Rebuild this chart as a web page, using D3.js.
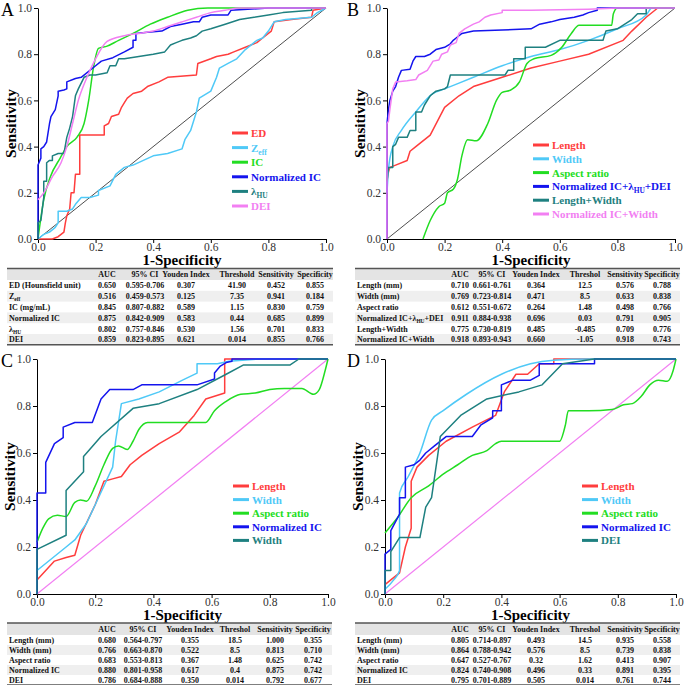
<!DOCTYPE html>
<html>
<head>
<meta charset="utf-8">
<script src="https://d3js.org/d3.v7.min.js"></script>
<style>
  body { margin: 0; background: #fff; }
  svg text { font-family: "Liberation Serif", "Times New Roman", serif; }
  .tick line, .domain { stroke: #000; }
</style>
</head>
<body>
<script>
  // ---- curve data: [1-specificity, sensitivity] ----
  var aED = [[0,0],[0.05,0],[0.07,0.01],[0.09,0.03],[0.095,0.07],[0.10,0.10],[0.11,0.13],[0.115,0.20],[0.125,0.20],[0.13,0.28],[0.145,0.28],[0.145,0.45],[0.23,0.45],[0.23,0.49],[0.245,0.50],[0.255,0.53],[0.28,0.54],[0.29,0.57],[0.30,0.59],[0.31,0.61],[0.33,0.63],[0.36,0.64],[0.38,0.66],[0.42,0.68],[0.45,0.70],[0.55,0.71],[0.555,0.76],[0.60,0.78],[0.62,0.79],[0.66,0.80],[0.68,0.81],[0.72,0.83],[0.76,0.85],[0.78,0.87],[0.80,0.89],[0.81,0.90],[0.82,0.94],[0.88,0.95],[0.95,0.96],[0.955,0.99],[1,1]];
  var aZeff = [[0,0],[0.02,0.02],[0.04,0.03],[0.06,0.05],[0.07,0.07],[0.07,0.12],[0.10,0.12],[0.12,0.13],[0.13,0.15],[0.15,0.18],[0.18,0.18],[0.21,0.19],[0.21,0.21],[0.25,0.23],[0.27,0.28],[0.30,0.31],[0.33,0.32],[0.40,0.36],[0.45,0.37],[0.50,0.39],[0.51,0.43],[0.53,0.47],[0.55,0.55],[0.56,0.61],[0.60,0.64],[0.62,0.70],[0.63,0.74],[0.66,0.76],[0.69,0.78],[0.72,0.82],[0.76,0.86],[0.78,0.87],[0.80,0.90],[0.82,0.94],[0.86,0.95],[0.95,0.96],[0.97,0.98],[1,1]];
  var aIC = [[0,0],[0.02,0.17],[0.043,0.27],[0.077,0.35],[0.10,0.40],[0.135,0.44],[0.16,0.50],[0.176,0.60],[0.193,0.745],[0.21,0.825],[0.24,0.835],[0.28,0.86],[0.33,0.89],[0.39,0.93],[0.45,0.96],[0.52,0.99],[0.59,1],[1,1]];
  var aNIC = [[0,0],[0,0.32],[0.01,0.35],[0.01,0.39],[0.02,0.40],[0.03,0.42],[0.04,0.50],[0.045,0.53],[0.06,0.56],[0.07,0.62],[0.07,0.64],[0.09,0.645],[0.10,0.65],[0.10,0.68],[0.13,0.695],[0.15,0.70],[0.20,0.75],[0.22,0.77],[0.26,0.785],[0.30,0.81],[0.33,0.83],[0.33,0.86],[0.34,0.86],[0.34,0.89],[0.38,0.895],[0.43,0.90],[0.46,0.92],[0.50,0.93],[0.54,0.94],[0.56,0.94],[0.57,0.96],[0.60,0.97],[0.66,0.97],[0.67,0.99],[0.80,1],[1,1]];
  var aLHU = [[0,0],[0,0.07],[0.01,0.08],[0.02,0.18],[0.02,0.25],[0.03,0.25],[0.03,0.33],[0.04,0.34],[0.05,0.34],[0.05,0.36],[0.07,0.37],[0.09,0.37],[0.10,0.44],[0.11,0.48],[0.12,0.53],[0.13,0.62],[0.14,0.65],[0.16,0.70],[0.18,0.71],[0.20,0.71],[0.24,0.72],[0.25,0.75],[0.27,0.75],[0.28,0.78],[0.30,0.78],[0.35,0.79],[0.40,0.80],[0.44,0.81],[0.46,0.84],[0.48,0.85],[0.50,0.86],[0.53,0.87],[0.55,0.88],[0.57,0.90],[0.60,0.91],[0.65,0.93],[0.70,0.95],[0.75,0.96],[0.80,0.97],[0.85,0.98],[0.95,0.99],[0.95,1],[1,1]];
  var aDEI = [[0,0.17],[0.02,0.20],[0.05,0.27],[0.08,0.33],[0.10,0.40],[0.12,0.50],[0.14,0.60],[0.17,0.70],[0.20,0.78],[0.24,0.855],[0.30,0.88],[0.35,0.89],[0.40,0.90],[0.45,0.92],[0.50,0.94],[0.55,0.96],[0.60,0.98],[0.65,0.99],[0.70,1],[1,1]];

  var bLength = [[0,0.25],[0.005,0.29],[0.01,0.31],[0.03,0.32],[0.07,0.34],[0.08,0.38],[0.10,0.40],[0.15,0.45],[0.20,0.57],[0.25,0.62],[0.30,0.66],[0.40,0.70],[0.50,0.74],[0.60,0.77],[0.70,0.80],[0.82,0.86],[0.85,0.90],[0.90,0.96],[0.94,1],[1,1]];
  var bWidth = [[0,0.2],[0.005,0.30],[0.02,0.40],[0.05,0.47],[0.10,0.55],[0.16,0.63],[0.20,0.65],[0.30,0.70],[0.40,0.75],[0.50,0.79],[0.60,0.82],[0.70,0.86],[0.80,0.91],[0.90,0.97],[0.92,1],[1,1]];
  var bAspect = [[0.125,0],[0.15,0.08],[0.18,0.14],[0.20,0.155],[0.21,0.20],[0.23,0.215],[0.245,0.26],[0.26,0.36],[0.28,0.43],[0.31,0.425],[0.35,0.50],[0.38,0.60],[0.40,0.635],[0.43,0.645],[0.46,0.68],[0.486,0.76],[0.51,0.78],[0.57,0.795],[0.607,0.83],[0.64,0.89],[0.667,0.925],[0.78,0.925],[0.786,0.975],[0.80,1],[1,1]];
  var bNICLD = [[0,0],[0,0.50],[0.005,0.56],[0.01,0.60],[0.02,0.64],[0.03,0.66],[0.04,0.70],[0.05,0.73],[0.08,0.735],[0.09,0.77],[0.10,0.79],[0.13,0.79],[0.15,0.80],[0.17,0.82],[0.20,0.83],[0.22,0.845],[0.23,0.86],[0.24,0.87],[0.26,0.89],[0.30,0.90],[0.40,0.905],[0.50,0.91],[0.53,0.93],[0.57,0.94],[0.60,0.95],[0.65,0.96],[0.68,0.97],[0.70,0.98],[0.73,0.99],[0.73,1],[1,1]];
  var bLW = [[0,0.25],[0.005,0.31],[0.02,0.31],[0.02,0.40],[0.03,0.41],[0.04,0.44],[0.07,0.44],[0.08,0.47],[0.10,0.47],[0.10,0.55],[0.12,0.55],[0.13,0.58],[0.15,0.62],[0.17,0.64],[0.20,0.65],[0.21,0.66],[0.22,0.71],[0.41,0.71],[0.42,0.73],[0.44,0.73],[0.44,0.78],[0.48,0.78],[0.48,0.83],[0.55,0.83],[0.60,0.86],[0.75,0.86],[0.76,0.90],[0.80,0.91],[0.85,0.95],[0.87,0.975],[0.90,0.975],[0.90,1],[1,1]];
  var bNICW = [[0,0],[0,0.50],[0.005,0.51],[0.01,0.56],[0.02,0.65],[0.03,0.68],[0.07,0.685],[0.10,0.69],[0.11,0.71],[0.14,0.73],[0.16,0.77],[0.18,0.775],[0.19,0.80],[0.21,0.81],[0.22,0.84],[0.24,0.85],[0.25,0.89],[0.27,0.91],[0.30,0.93],[0.32,0.94],[0.34,0.96],[0.36,0.97],[0.40,0.98],[0.40,0.99],[0.50,0.99],[0.70,0.995],[0.80,1],[1,1]];

  var cLength = [[0,0.06],[0.06,0.14],[0.10,0.155],[0.13,0.165],[0.15,0.25],[0.20,0.38],[0.23,0.48],[0.26,0.49],[0.29,0.50],[0.32,0.55],[0.36,0.59],[0.42,0.64],[0.49,0.69],[0.54,0.76],[0.58,0.83],[0.645,0.855],[0.645,1],[1,1]];
  var cWidth = [[0,0.10],[0.05,0.15],[0.10,0.20],[0.13,0.23],[0.17,0.30],[0.20,0.38],[0.26,0.54],[0.27,0.65],[0.29,0.81],[0.35,0.83],[0.42,0.86],[0.50,0.91],[0.55,0.94],[0.55,0.98],[0.62,0.98],[0.66,0.99],[0.76,1],[1,1]];
  var cAspect = [[0,0.22],[0.02,0.28],[0.04,0.32],[0.07,0.335],[0.10,0.33],[0.13,0.39],[0.15,0.40],[0.17,0.395],[0.20,0.46],[0.23,0.55],[0.26,0.62],[0.28,0.63],[0.31,0.615],[0.33,0.65],[0.35,0.70],[0.38,0.73],[0.45,0.73],[0.58,0.73],[0.61,0.78],[0.65,0.82],[0.70,0.85],[0.75,0.855],[0.80,0.87],[0.85,0.875],[0.91,0.875],[0.95,0.85],[0.97,0.87],[0.99,0.95],[1,1]];
  var cNIC = [[0,0],[0,0.43],[0.03,0.43],[0.03,0.56],[0.06,0.64],[0.09,0.665],[0.09,0.71],[0.13,0.73],[0.19,0.73],[0.22,0.83],[0.25,0.87],[0.33,0.87],[0.36,0.89],[0.55,0.89],[0.61,0.915],[0.61,0.94],[0.63,0.97],[0.65,0.985],[0.67,0.99],[0.67,1],[1,1]];
  var cWidth2 = [[0,0],[0,0.19],[0.10,0.25],[0.10,0.44],[0.16,0.52],[0.16,0.585],[0.22,0.67],[0.33,0.79],[0.42,0.81],[0.55,0.87],[0.65,0.935],[0.71,0.975],[0.87,0.975],[0.90,1],[1,1]];

  var dLength = [[0,0.04],[0.02,0.06],[0.05,0.09],[0.07,0.20],[0.09,0.28],[0.09,0.48],[0.11,0.54],[0.15,0.59],[0.21,0.65],[0.30,0.71],[0.38,0.76],[0.41,0.86],[0.45,0.935],[0.49,0.935],[0.53,0.98],[0.58,0.98],[0.58,1],[1,1]];
  var dWidth = [[0,0.02],[0.03,0.06],[0.05,0.10],[0.05,0.43],[0.08,0.50],[0.12,0.60],[0.16,0.74],[0.20,0.78],[0.28,0.85],[0.40,0.935],[0.50,0.98],[0.58,0.995],[0.70,1],[1,1]];
  var dAspect = [[0,0.26],[0.04,0.32],[0.09,0.41],[0.15,0.46],[0.20,0.51],[0.25,0.55],[0.30,0.59],[0.35,0.61],[0.38,0.64],[0.40,0.65],[0.60,0.65],[0.62,0.72],[0.63,0.78],[0.70,0.78],[0.78,0.785],[0.82,0.805],[0.85,0.81],[0.88,0.84],[0.91,0.89],[0.94,0.91],[0.97,0.905],[0.99,0.95],[1,1]];
  var dNIC = [[0,0],[0,0.17],[0.02,0.19],[0.02,0.27],[0.05,0.34],[0.05,0.41],[0.07,0.41],[0.07,0.54],[0.10,0.55],[0.12,0.57],[0.14,0.60],[0.17,0.63],[0.21,0.67],[0.30,0.67],[0.33,0.72],[0.37,0.75],[0.37,0.78],[0.40,0.78],[0.40,0.89],[0.44,0.91],[0.50,0.91],[0.53,0.93],[0.53,0.98],[0.72,0.98],[0.72,1],[1,1]];
  var dDEI = [[0,0],[0,0.10],[0.02,0.10],[0.02,0.18],[0.05,0.24],[0.12,0.24],[0.14,0.37],[0.16,0.41],[0.18,0.58],[0.19,0.67],[0.26,0.76],[0.35,0.83],[0.46,0.86],[0.54,0.89],[0.61,0.98],[0.72,1],[1,1]];

  // ---- legend names ----
  var namesA = ["ED", "Z{eff}", "IC", "Normalized IC", "λ{HU}", "DEI"];
  var namesB = ["Length", "Width", "Aspect ratio", "Normalized IC+λ{HU}+DEI", "Length+Width", "Normalized IC+Width"];
  var namesC = ["Length", "Width", "Aspect ratio", "Normalized IC", "Width"];
  var namesD = ["Length", "Width", "Aspect ratio", "Normalized IC", "DEI"];

  // ---- tables ----
  var headA = ["AUC", "95% CI", "Youden Index", "Threshold", "Sensitivity", "Specificity"];
  var headB = ["AUC", "95% CI", "Youden Index", "Threshol", "Sensitivity", "Specificity"];
  var rowNamesA = ["ED (Hounsfield unit)", "Z{eff}", "IC (mg/mL)", "Normalized IC", "λ{HU}", "DEI"];
  var rowValsA = [
    ["0.650", "0.595-0.706", "0.307", "41.90", "0.452", "0.855"],
    ["0.516", "0.459-0.573", "0.125", "7.35", "0.941", "0.184"],
    ["0.845", "0.807-0.882", "0.589", "1.15", "0.830", "0.759"],
    ["0.875", "0.842-0.909", "0.583", "0.44", "0.685", "0.899"],
    ["0.802", "0.757-0.846", "0.530", "1.56", "0.701", "0.833"],
    ["0.859", "0.823-0.895", "0.621", "0.014", "0.855", "0.766"]];
  var rowNamesB = ["Length (mm)", "Width (mm)", "Aspect ratio", "Normalized IC+λ{HU}+DEI", "Length+Width", "Normalized IC+Width"];
  var rowValsB = [
    ["0.710", "0.661-0.761", "0.364", "12.5", "0.576", "0.788"],
    ["0.769", "0.723-0.814", "0.471", "8.5", "0.633", "0.838"],
    ["0.612", "0.551-0.672", "0.264", "1.48", "0.498", "0.766"],
    ["0.911", "0.884-0.938", "0.696", "0.03", "0.791", "0.905"],
    ["0.775", "0.730-0.819", "0.485", "-0.485", "0.709", "0.776"],
    ["0.918", "0.893-0.943", "0.660", "-1.05", "0.918", "0.743"]];
  var rowNamesC = ["Length (mm)", "Width (mm)", "Aspect ratio", "Normalized IC", "DEI"];
  var rowValsC = [
    ["0.680", "0.564-0.797", "0.355", "18.5", "1.000", "0.355"],
    ["0.766", "0.663-0.870", "0.522", "8.5", "0.813", "0.710"],
    ["0.683", "0.553-0.813", "0.367", "1.48", "0.625", "0.742"],
    ["0.880", "0.801-0.958", "0.617", "0.4", "0.875", "0.742"],
    ["0.786", "0.684-0.888", "0.350", "0.014", "0.792", "0.677"]];
  var rowNamesD = ["Length (mm)", "Width (mm)", "Aspect ratio", "Normalized IC", "DEI"];
  var rowValsD = [
    ["0.805", "0.714-0.897", "0.493", "14.5", "0.935", "0.558"],
    ["0.864", "0.788-0.942", "0.576", "8.5", "0.739", "0.838"],
    ["0.647", "0.527-0.767", "0.32", "1.62", "0.413", "0.907"],
    ["0.824", "0.740-0.908", "0.496", "0.33", "0.891", "0.395"],
    ["0.795", "0.701-0.889", "0.505", "0.014", "0.761", "0.744"]];

  var tickVals = [0, 0.2, 0.4, 0.6, 0.8, 1.0];

  // colours
  var RED = "#ff3d3d", SKY = "#4fc9f7", GRN = "#22dd22", BLU = "#1414ee", TEAL = "#1e8080", PINK = "#f27ff2";
  var FONT = "'Liberation Serif', 'Times New Roman', serif";
  var TF = 8;   // table font size

  var svg = d3.select("body").append("svg").attr("width", 684).attr("height", 685);

  // writes "abc{sub}def" as text with subscripts
  function richText(sel, str, size) {
    var parts = str.split(/(\{[^}]*\})/).filter(function(p) { return p.length; });
    var shift = 0;
    parts.forEach(function(p) {
      var t = sel.append("tspan");
      if (p[0] == "{") {
        t.attr("font-size", size * 0.68).attr("dy", size * 0.28).text(p.slice(1, -1));
        shift = size * 0.28;
      } else {
        if (shift) t.attr("dy", -shift);
        shift = 0;
        t.text(p);
      }
    });
  }

  function panel(p) {
    var g = svg.append("g");
    var x = d3.scaleLinear().domain([0, 1]).range([p.l, p.r]);
    var y = d3.scaleLinear().domain([0, 1]).range([p.b, p.t]);

    var gx = g.append("g").attr("transform", "translate(0," + p.b + ")")
      .call(d3.axisBottom(x).tickValues(tickVals).tickFormat(d3.format(".1f")).tickSize(4).tickSizeOuter(0).tickPadding(0));
    var gy = g.append("g").attr("transform", "translate(" + p.l + ",0)")
      .call(d3.axisLeft(y).tickValues(tickVals).tickFormat(d3.format(".1f")).tickSize(4).tickSizeOuter(0).tickPadding(2));
    [gx, gy].forEach(function(a) {
      a.attr("font-family", FONT).attr("font-size", 11.5);
      a.selectAll(".tick text").attr("fill", "#333");
    });

    g.append("line")
      .attr("x1", x(0)).attr("y1", y(0)).attr("x2", x(1)).attr("y2", y(1))
      .attr("stroke", p.diag).attr("stroke-width", p.diag == "#000" ? 0.7 : 1.2);

    var line = d3.line().x(function(d) { return x(d[0]); }).y(function(d) { return y(d[1]); });
    var smooth = d3.line().x(function(d) { return x(d[0]); }).y(function(d) { return y(d[1]); }).curve(d3.curveMonotoneX);

    p.series.forEach(function(s, i) {
      g.append("path").datum(s)
        .attr("fill", "none")
        .attr("stroke", p.colors[i])
        .attr("stroke-width", 1.5)
        .attr("stroke-linejoin", "round")
        .attr("d", p.smooth.indexOf(i) >= 0 ? smooth : line);
    });

    // legend
    p.names.forEach(function(n, i) {
      var yy = p.legY + i * p.legStep;
      g.append("line").attr("x1", p.legX).attr("x2", p.legX + 16).attr("y1", yy).attr("y2", yy)
        .attr("stroke", p.colors[i]).attr("stroke-width", 3);
      var t = g.append("text").attr("x", p.legX + 19).attr("y", yy + 4)
        .attr("font-size", 11).attr("font-weight", "bold").attr("fill", p.colors[i]);
      richText(t, n, 11);
    });

    // titles
    g.append("text").attr("x", (p.l + p.r) / 2).attr("y", p.b + 26).attr("text-anchor", "middle")
      .attr("font-size", 15).attr("font-weight", "bold").text("1-Specificity");
    g.append("text").attr("transform", "translate(" + (p.l - 22) + "," + ((p.t + p.b) / 2) + ") rotate(-90)")
      .attr("text-anchor", "middle").attr("font-size", 15.5).attr("font-weight", "bold").text("Sensitivity");
    g.append("text").attr("x", p.letX).attr("y", p.t + 8).attr("font-size", 18).text(p.letter);

    // table
    var tg = svg.append("g");
    var top = p.tabTop, hh = p.headH, rh = p.rowH;
    tg.append("rect").attr("x", p.tabL).attr("y", top).attr("width", p.tabR - p.tabL).attr("height", hh).attr("fill", "#e4e4e4");
    p.rowNames.forEach(function(n, i) {
      var ry = top + hh + i * rh;
      if (i % 2 == 1) {
        tg.append("rect").attr("x", p.tabL).attr("y", ry).attr("width", p.tabR - p.tabL).attr("height", rh).attr("fill", "#efefef");
      }
      var t = tg.append("text").attr("x", p.tabL + 2).attr("y", ry + rh / 2 + 3)
        .attr("font-size", TF).attr("font-weight", "bold").attr("fill", "#111");
      richText(t, n, TF);
      p.rowVals[i].forEach(function(v, j) {
        tg.append("text").attr("x", p.cols[j]).attr("y", ry + rh / 2 + 3).attr("text-anchor", "middle")
          .attr("font-size", TF).attr("font-weight", "bold").attr("fill", "#111").text(v);
      });
    });
    p.head.forEach(function(h, j) {
      tg.append("text").attr("x", p.cols[j]).attr("y", top + hh / 2 + 3).attr("text-anchor", "middle")
        .attr("font-size", TF).attr("font-weight", "bold").attr("fill", "#111").text(h);
    });
    var bot = top + hh + p.rowNames.length * rh;
    [top, bot].forEach(function(yy) {
      tg.append("line").attr("x1", p.tabL).attr("x2", p.tabR).attr("y1", yy).attr("y2", yy)
        .attr("stroke", "#555").attr("stroke-width", 1.5);
    });
  }

  panel({ l: 38, r: 326, t: 8, b: 239, letter: "A", letX: 1, diag: "#000",
    series: [aED, aZeff, aIC, aNIC, aLHU, aDEI], smooth: [2, 5],
    colors: [RED, SKY, GRN, BLU, TEAL, PINK], names: namesA,
    legX: 232, legY: 133, legStep: 14.6,
    tabL: 7, tabR: 333, tabTop: 268.5, headH: 11.5, rowH: 10.8,
    cols: [107, 145, 186, 237, 276, 315], head: headA, rowNames: rowNamesA, rowVals: rowValsA });

  panel({ l: 387, r: 675, t: 8, b: 239, letter: "B", letX: 347, diag: "#000",
    series: [bLength, bWidth, bAspect, bNICLD, bLW, bNICW], smooth: [1, 2],
    colors: [RED, SKY, GRN, BLU, TEAL, PINK], names: namesB,
    legX: 533, legY: 145, legStep: 13.8,
    tabL: 355, tabR: 680, tabTop: 268.5, headH: 11.5, rowH: 10.8,
    cols: [460, 492, 536, 585, 625, 662], head: headB, rowNames: rowNamesB, rowVals: rowValsB });

  panel({ l: 37, r: 328, t: 359, b: 594, letter: "C", letX: 1, diag: PINK,
    series: [cLength, cWidth, cAspect, cNIC, cWidth2], smooth: [2],
    colors: [RED, SKY, GRN, BLU, TEAL], names: namesC,
    legX: 233, legY: 486, legStep: 13.6,
    tabL: 7, tabR: 332, tabTop: 623, headH: 12, rowH: 10,
    cols: [107, 143, 190, 235, 275, 313], head: headB, rowNames: rowNamesC, rowVals: rowValsC });

  panel({ l: 385, r: 676, t: 359, b: 594, letter: "D", letX: 347, diag: PINK,
    series: [dLength, dWidth, dAspect, dNIC, dDEI], smooth: [1, 2],
    colors: [RED, SKY, GRN, BLU, TEAL], names: namesD,
    legX: 582, legY: 486, legStep: 13.6,
    tabL: 355, tabR: 680, tabTop: 623, headH: 12, rowH: 10,
    cols: [460, 492, 536, 585, 625, 662], head: headB, rowNames: rowNamesD, rowVals: rowValsD });
</script>
</body>
</html>
